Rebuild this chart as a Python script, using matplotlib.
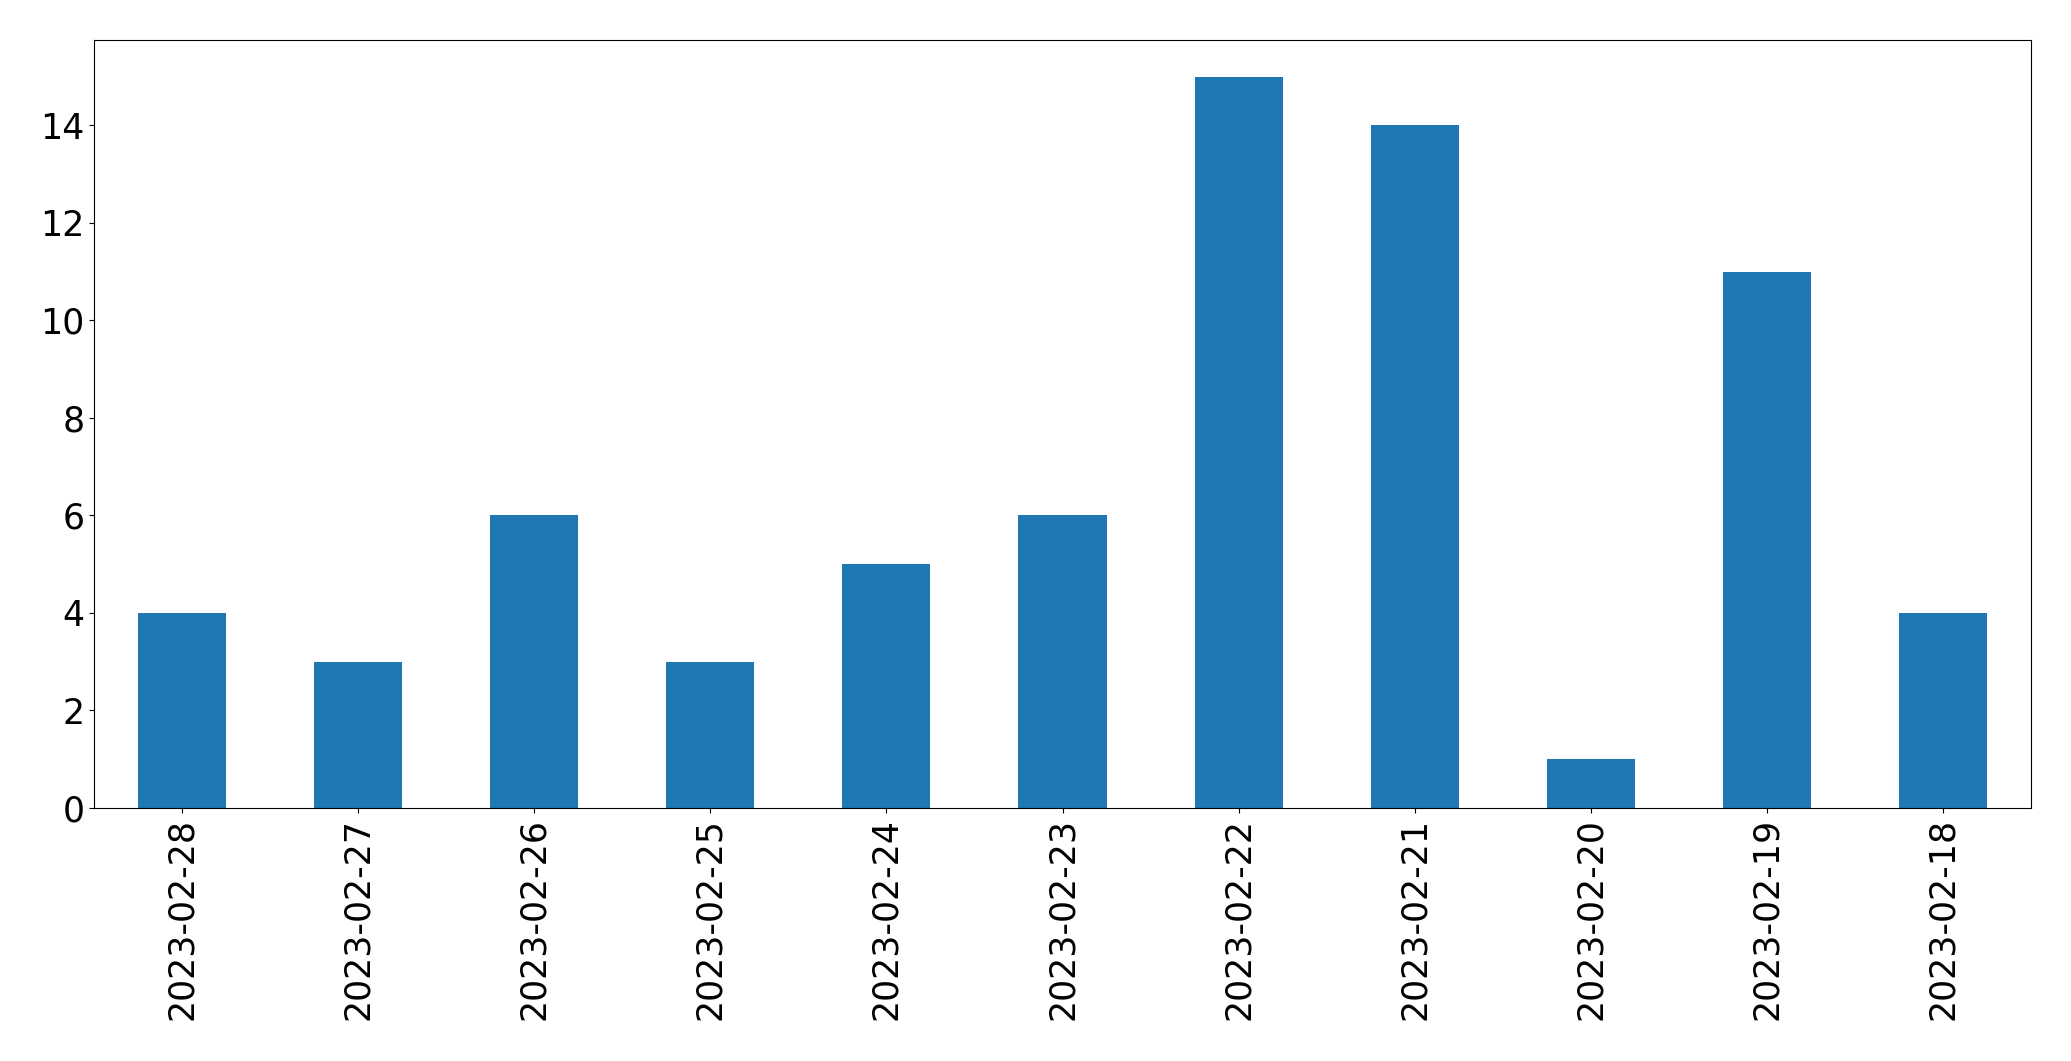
import matplotlib
matplotlib.use("Agg")
import matplotlib.pyplot as plt

dates = ["2023-02-28", "2023-02-27", "2023-02-26", "2023-02-25", "2023-02-24",
         "2023-02-23", "2023-02-22", "2023-02-21", "2023-02-20", "2023-02-19", "2023-02-18"]
counts = [4, 3, 6, 3, 5, 6, 15, 14, 1, 11, 4]

fig = plt.figure(figsize=(20.71, 10.61), dpi=100)
ax = fig.add_axes([94/2071, 1 - 808/1061, (2031 - 94)/2071, (808 - 40)/1061])
x = list(range(len(dates)))
ax.bar(x, counts, width=0.5, color="#1f77b4")
ax.set_xlim(-0.5, len(dates) - 0.5)
ax.set_ylim(0, max(counts) * 1.05)
ax.set_xticks(x)
ax.set_xticklabels(dates, rotation=90)
ax.tick_params(axis="both", labelsize=25)
fig.savefig("out.png", dpi=100)
